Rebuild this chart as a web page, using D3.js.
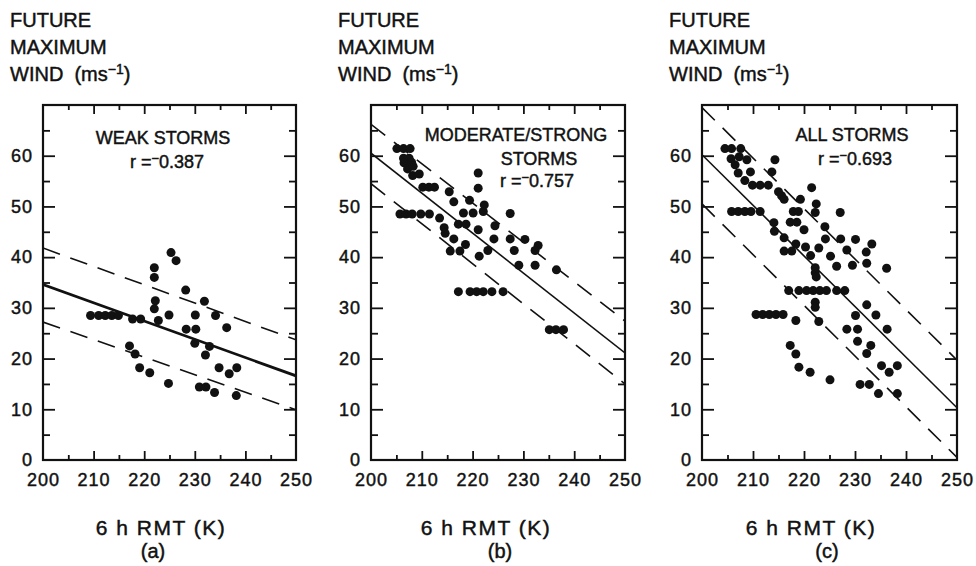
<!DOCTYPE html>
<meta charset="utf-8">
<head>
  <title>Future maximum wind vs 6 h RMT</title>
</head>

<style>
body { margin: 0; background: #fff; }
text {
  font-family: "Liberation Sans", Arial, Helvetica, sans-serif;
  fill: #111;
  stroke: #111;
  stroke-width: 0.45px;
}
.tick line { stroke: #111; stroke-width: 1.8px; }
</style>

<body>
  <svg width="976" height="566"></svg>

  <script src="https://cdnjs.cloudflare.com/ajax/libs/d3/7.8.5/d3.min.js"></script>
  <script>
// (a) weak storms
var weakX = [209.4, 211.0, 212.3, 213.6, 214.9, 217.7, 219.3, 225.3, 226.3, 222.0, 222.0, 222.2, 222.0,
  222.8, 224.9, 228.2, 231.9, 230.1, 234.1, 228.3, 230.2, 236.3, 230.0, 232.9, 232.1, 217.1, 218.2,
  219.1, 221.1, 224.8, 230.9, 232.2, 233.9, 234.8, 236.8, 238.3, 238.2];
var weakY = [28.5, 28.5, 28.5, 28.5, 28.5, 27.8, 27.8, 40.9, 39.3, 37.9, 36.0, 31.4, 29.8,
  27.5, 28.6, 33.5, 31.3, 28.6, 28.5, 25.8, 25.8, 26.1, 23.0, 22.4, 20.7, 22.5, 20.9,
  18.2, 17.2, 15.1, 14.4, 14.4, 13.3, 18.2, 17.0, 18.2, 12.7];

// (b) moderate/strong storms
var modX = [205.1, 206.4, 207.7, 206.4, 207.5, 206.5, 208.0, 207.2, 208.3, 208.2, 209.5, 221.1, 210.2,
  211.4, 212.5, 215.4, 221.1, 216.3, 219.4, 222.3, 205.7, 206.9, 208.1, 209.8, 211.5, 213.5, 218.2,
  220.1, 222.1, 227.4, 217.2, 218.7, 214.4, 214.6, 221.1, 224.4, 216.3, 218.6, 215.6, 217.5, 224.2,
  227.4, 230.3, 232.9, 232.3, 223.0, 228.2, 221.3, 229.1, 232.3, 236.5, 217.2, 219.5, 220.8, 222.1,
  223.8, 226.0, 235.1, 236.4, 237.9];
var modY = [61.4, 61.4, 61.4, 59.5, 59.5, 58.6, 58.7, 57.4, 57.9, 56.1, 56.4, 56.6, 53.8,
  53.8, 53.8, 52.9, 53.6, 50.9, 51.2, 50.3, 48.5, 48.5, 48.5, 48.5, 48.5, 47.7, 48.7,
  48.7, 49.0, 48.6, 46.5, 46.5, 45.8, 44.7, 45.4, 46.2, 43.6, 42.5, 41.2, 41.2, 43.6,
  43.6, 43.5, 42.3, 41.3, 41.3, 41.3, 40.2, 38.4, 38.4, 37.5, 33.2, 33.2, 33.2, 33.2,
  33.2, 33.2, 25.7, 25.7, 25.7];

// (c) all storms
var allX = [204.5, 205.8, 207.6, 205.7, 207.3, 208.8, 206.5, 207.1, 209.5, 208.4, 209.9, 211.4, 213.0,
  214.3, 213.7, 221.5, 215.0, 215.6, 216.1, 219.3, 222.4, 222.2, 205.8, 207.1, 208.4, 209.6, 211.4,
  217.9, 218.9, 227.1, 214.1, 217.3, 218.6, 214.2, 220.0, 224.1, 216.1, 224.2, 227.2, 230.1, 233.3,
  218.4, 216.1, 217.6, 220.3, 222.9, 228.4, 232.2, 221.3, 225.2, 226.4, 229.5, 232.3, 236.2, 222.2,
  222.2, 222.4, 217.0, 219.0, 220.5, 221.8, 223.1, 224.4, 226.4, 228.0, 222.2, 222.2, 210.6, 211.9,
  213.2, 214.5, 215.9, 218.4, 222.9, 230.1, 232.3, 234.1, 228.4, 230.5, 236.3, 230.5, 233.1, 232.3,
  217.3, 218.4, 219.0, 221.2, 225.1, 231.0, 232.8, 234.6, 235.2, 236.7, 238.3, 238.3];
var allY = [61.4, 61.4, 61.4, 59.4, 59.8, 59.2, 58.2, 56.6, 56.8, 55.1, 54.2, 54.2, 54.2,
  59.2, 56.8, 53.7, 52.9, 52.1, 51.4, 51.4, 50.5, 48.8, 49.0, 49.0, 49.0, 49.0, 49.0,
  49.0, 49.0, 48.8, 46.8, 46.9, 46.9, 45.1, 45.4, 46.0, 43.8, 43.6, 43.6, 43.5, 42.6,
  42.6, 41.2, 41.2, 42.0, 41.8, 41.4, 41.0, 40.3, 40.2, 38.2, 38.4, 38.8, 37.8, 37.9,
  36.9, 36.1, 33.4, 33.4, 33.4, 33.4, 33.4, 33.4, 33.4, 33.4, 31.1, 30.1, 28.7, 28.7,
  28.7, 28.7, 28.7, 27.5, 27.3, 28.5, 30.6, 28.6, 25.8, 25.8, 25.8, 23.4, 22.6, 21.0,
  22.6, 20.9, 18.3, 17.3, 15.8, 14.9, 14.9, 13.1, 18.6, 17.3, 18.6, 13.1];

// fitted line and dashed bounds, wind at 200 K and at 250 K
var weakLines = [[34.6, 16.6], [41.8, 23.7], [27.2, 9.9]];
var modLines = [[60.5, 21.1], [66.2, 27.4], [54.5, 15.0]];
var allLines = [[60.2, 10.3], [69.5, 19.7], [50.5, 0.5]];

var xTicks = [200, 210, 220, 230, 240, 250];
var yTicks = [0, 10, 20, 30, 40, 50, 60];
var titleLines = ["FUTURE", "MAXIMUM", "WIND\u00a0\u00a0(ms"];
var stormNames = [["WEAK STORMS"], ["MODERATE/STRONG", "STORMS"], ["ALL STORMS"]];
var rValues = ["0.387", "0.757", "0.693"];
var letters = ["(a)", "(b)", "(c)"];

var panels = [
  {xs: weakX, ys: weakY, lines: weakLines, left: 43, right: 296,
   nameX: [163], nameY: [144], rX: 167, rY: 168, labX: 161, letX: 153},
  {xs: modX, ys: modY, lines: modLines, left: 371, right: 625,
   nameX: [516, 539], nameY: [141, 165], rX: 537, rY: 187, labX: 486, letX: 500},
  {xs: allX, ys: allY, lines: allLines, left: 702, right: 957,
   nameX: [852], nameY: [141], rX: 855, rY: 165, labX: 811, letX: 827}
];

var plotTop = 105, plotBottom = 460;
var svg = d3.select('svg');

panels.forEach(function(p, i) {
  var x = d3.scaleLinear().domain([200, 250]).range([p.left, p.right]);
  var y = d3.scaleLinear().domain([0, 70]).range([plotBottom, plotTop]);
  var g = svg.append('g');

  g.append('clipPath').attr('id', 'clip' + i)
    .append('rect')
    .attr('x', p.left).attr('y', plotTop)
    .attr('width', p.right - p.left).attr('height', plotBottom - plotTop);

  // title
  var t = g.append('text').attr('font-size', 20);
  titleLines.forEach(function(s, k) {
    t.append('tspan').attr('x', p.left - 33).attr('y', 27 + k * 27).text(s);
  });
  t.append('tspan').attr('font-size', 14).attr('dy', -7).text('\u22121');
  t.append('tspan').attr('dy', 7).text(')');

  // ticks
  var minorY = d3.range(5, 70, 10), majorY = d3.range(10, 70, 10);
  var minorX = d3.range(205, 250, 10), majorX = d3.range(210, 250, 10);
  function tickAxis(axis, tr) {
    var a = g.append('g').attr('transform', tr).call(axis);
    a.select('.domain').remove();
    return a;
  }
  tickAxis(d3.axisLeft(y).tickValues(minorY).tickSize(-7).tickFormat(''), 'translate(' + p.left + ',0)');
  tickAxis(d3.axisLeft(y).tickValues(majorY).tickSize(-12).tickFormat(''), 'translate(' + p.left + ',0)');
  tickAxis(d3.axisRight(y).tickValues(minorY).tickSize(-7).tickFormat(''), 'translate(' + p.right + ',0)');
  tickAxis(d3.axisRight(y).tickValues(majorY).tickSize(-12).tickFormat(''), 'translate(' + p.right + ',0)');
  tickAxis(d3.axisTop(x).tickValues(minorX).tickSize(-5).tickFormat(''), 'translate(0,' + plotTop + ')');
  tickAxis(d3.axisTop(x).tickValues(majorX).tickSize(-9).tickFormat(''), 'translate(0,' + plotTop + ')');
  tickAxis(d3.axisBottom(x).tickValues(minorX).tickSize(-5).tickFormat(''), 'translate(0,' + plotBottom + ')');
  tickAxis(d3.axisBottom(x).tickValues(majorX).tickSize(-9).tickFormat(''), 'translate(0,' + plotBottom + ')');

  // tick labels
  var yl = tickAxis(d3.axisLeft(y).tickValues(yTicks).tickSize(0).tickPadding(10), 'translate(' + p.left + ',0)');
  var xl = tickAxis(d3.axisBottom(x).tickValues(xTicks).tickSize(0).tickPadding(13), 'translate(0,' + plotBottom + ')');
  [yl, xl].forEach(function(a) {
    a.attr('font-size', 18).attr('font-family', null);
    a.selectAll('text').style('letter-spacing', '1px');
  });

  // frame
  g.append('rect')
    .attr('x', p.left).attr('y', plotTop)
    .attr('width', p.right - p.left).attr('height', plotBottom - plotTop)
    .attr('fill', 'none').attr('stroke', '#111').attr('stroke-width', 2.2);

  // regression lines
  var lg = g.append('g').attr('clip-path', 'url(#clip' + i + ')');
  p.lines.forEach(function(l, k) {
    lg.append('line')
      .attr('x1', x(200)).attr('y1', y(l[0]))
      .attr('x2', x(250)).attr('y2', y(l[1]))
      .attr('stroke', '#111')
      .attr('stroke-width', k === 0 ? (i === 0 ? 2.8 : 1.6) : 1.6)
      .attr('stroke-dasharray', k === 0 ? null : '18,11');
  });

  // dots
  g.selectAll('circle.pt')
    .data(d3.range(p.xs.length))
    .enter()
    .append('circle')
    .attr('class', 'pt')
    .attr('cx', function(d) { return x(p.xs[d]); })
    .attr('cy', function(d) { return y(p.ys[d]); })
    .attr('r', 4.5)
    .attr('fill', '#111');

  // storm class and r
  stormNames[i].forEach(function(s, k) {
    g.append('text')
      .attr('x', p.nameX[k]).attr('y', p.nameY[k])
      .attr('font-size', 18).attr('text-anchor', 'middle')
      .text(s);
  });
  var r = g.append('text')
    .attr('x', p.rX).attr('y', p.rY)
    .attr('font-size', 18).attr('text-anchor', 'middle');
  r.append('tspan').text('r =');
  r.append('tspan').attr('font-size', 13).attr('dy', -5).text('\u2212');
  r.append('tspan').attr('dy', 5).text(rValues[i]);

  // axis title and panel letter
  g.append('text')
    .attr('x', p.labX).attr('y', 535)
    .attr('font-size', 21).attr('text-anchor', 'middle')
    .style('letter-spacing', '1.5px')
    .text('6 h RMT (K)');
  g.append('text')
    .attr('x', p.letX).attr('y', 558)
    .attr('font-size', 20).attr('text-anchor', 'middle')
    .text(letters[i]);
});
  </script>
</body>
</html>
